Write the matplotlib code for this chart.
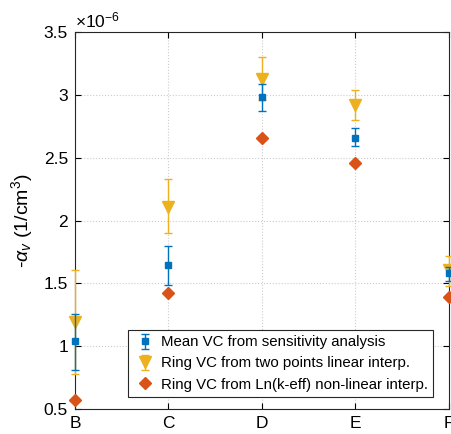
import numpy as np
import matplotlib
matplotlib.use("Agg")
import matplotlib.pyplot as plt
from matplotlib.ticker import FuncFormatter

plt.rcParams['font.family'] = ['Liberation Sans', 'DejaVu Sans']
plt.rcParams['mathtext.fontset'] = 'custom'
plt.rcParams['mathtext.rm'] = 'Liberation Sans'
plt.rcParams['mathtext.it'] = 'Liberation Sans:italic'

# values in units of 1e-6 (1/cm^3)
categories = ["B", "C", "D", "E", "F"]
mean_vc = [1.04, 1.65, 2.98, 2.66, 1.58]
mean_lo = [0.81, 1.49, 2.87, 2.59, 1.52]
mean_hi = [1.26, 1.80, 3.085, 2.735, 1.63]
lin_vc = [1.19, 2.11, 3.13, 2.92, 1.61]
lin_lo = [0.78, 1.90, 2.96, 2.80, 1.48]
lin_hi = [1.61, 2.33, 3.30, 3.04, 1.72]
ln_vc = [0.57, 1.42, 2.66, 2.46, 1.39]

blue = "#0072BD"
orange = "#D95319"
yellow = "#EDB120"

x = np.arange(len(categories))
fig = plt.figure(figsize=(4.52, 4.34), dpi=100)
ax = fig.add_axes([0.166, 0.0576, 0.827, 0.8685])

m = np.array(mean_vc)
h1 = ax.errorbar(x, m, yerr=[m - np.array(mean_lo), np.array(mean_hi) - m],
                 fmt='s', color=blue, ms=5, capsize=3, elinewidth=1, capthick=1,
                 label="Mean VC from sensitivity analysis", zorder=4)
l = np.array(lin_vc)
h2 = ax.errorbar(x, l, yerr=[l - np.array(lin_lo), np.array(lin_hi) - l],
                 fmt='v', color=yellow, ms=8, capsize=3, elinewidth=1, capthick=1,
                 label="Ring VC from two points linear interp.", zorder=3)
h3, = ax.plot(x, ln_vc, 'D', color=orange, ms=6, linestyle='none',
              label="Ring VC from Ln(k-eff) non-linear interp.", zorder=5)
for h in (h1, h2):
    for art in h.get_children():
        art.set_clip_on(False)
h3.set_clip_on(False)

ax.set_xlim(0, 4)
ax.set_ylim(0.5, 3.5)
ax.set_xticks(x)
ax.set_xticklabels(categories)
ax.set_yticks([0.5, 1, 1.5, 2, 2.5, 3, 3.5])
ax.yaxis.set_major_formatter(FuncFormatter(lambda v, p: "%g" % v))
ax.tick_params(direction='in', top=True, right=True, labelsize=12.5, length=4, pad=5)
ax.grid(True, linestyle=':', color='#cccccc', linewidth=0.8)
for s in ax.spines.values():
    s.set_color('#262626')

ax.set_ylabel(r"-$\alpha_v$ (1/cm$^3$)", fontsize=14, labelpad=6)
ax.text(0.0, 1.005, r"$\times10^{-6}$", transform=ax.transAxes, fontsize=12.5,
        ha='left', va='bottom')

leg = ax.legend([h1, h2, h3], [h1.get_label(), h2.get_label(), h3.get_label()],
                loc='lower right', fontsize=10.8, fancybox=False, framealpha=1,
                edgecolor='#262626', borderpad=0.35, handletextpad=0.3,
                labelspacing=0.48, handlelength=1.5, borderaxespad=0,
                bbox_to_anchor=(0.957, 0.032))
leg.get_frame().set_linewidth(0.8)

fig.savefig("out.png", dpi=100)
